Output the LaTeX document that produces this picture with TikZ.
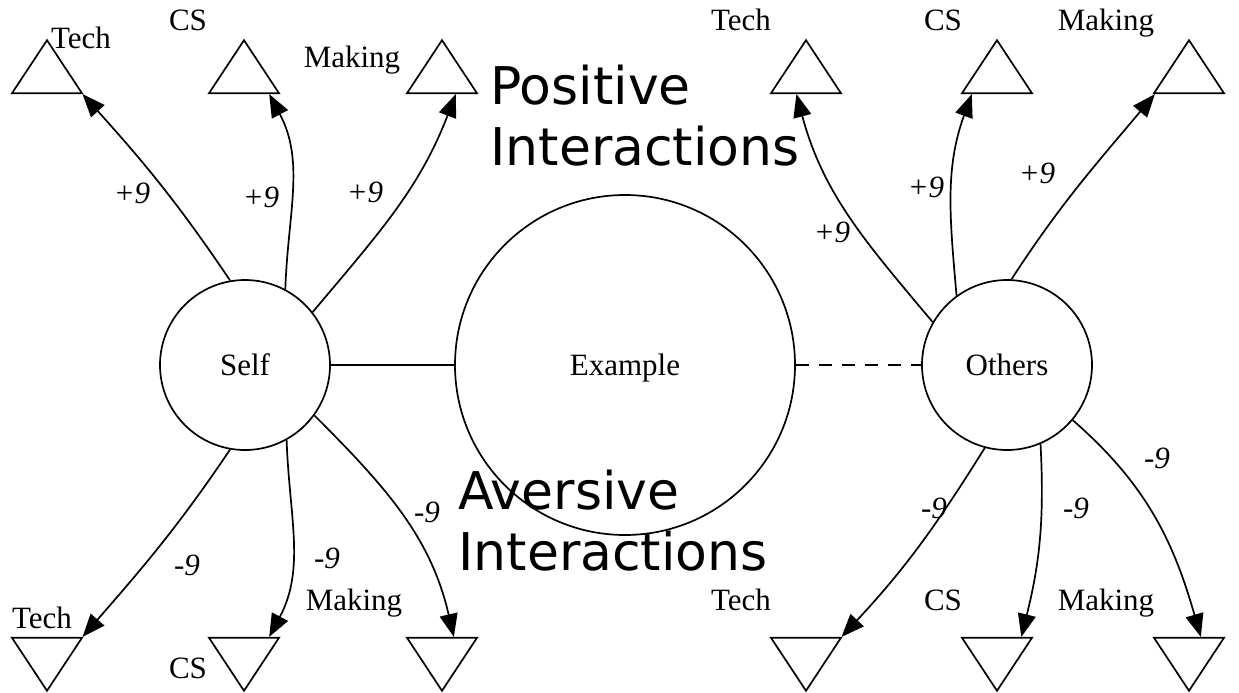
\documentclass[tikz,border=0pt]{standalone}
\usepackage{fontspec}
\setmainfont{Liberation Serif}
\newfontfamily\dejavu{DejaVu Sans}
\usetikzlibrary{arrows.meta}
\usetikzlibrary{shapes.geometric}

\begin{document}
\begin{tikzpicture}[x=0.5pt,y=0.5pt,
  every node/.style={font=\fontsize{15.5}{18}\selectfont},
  agent/.style={circle,draw,line width=0.85pt,minimum size=85pt,inner sep=0pt,text depth=0pt},
  upTri/.style={isosceles triangle,isosceles triangle stretches,shape border rotate=90,draw,line width=0.85pt,minimum width=35pt,minimum height=26.5pt,inner sep=0pt},
  downTri/.style={upTri,shape border rotate=-90},
  link/.style={line width=0.85pt,-{Triangle[length=11.5pt,width=9pt]}},
  weight/.style={font=\fontsize{15.5}{18}\selectfont\itshape,anchor=base},
  cat/.style={anchor=base},
  big/.style={font=\fontsize{26}{30.5}\selectfont\dejavu,align=left,anchor=base west,inner sep=0pt}]
\useasboundingbox (0,0) rectangle (1239,-692);

\node[agent] (self) at (245,-365) {Self};
\node[agent,minimum size=170pt] (ex) at (625,-365) {Example};
\node[agent] (oth) at (1007,-365) {Others};

\node[upTri] (sT) at (47,-74.4) {};
\node[upTri] (sC) at (244,-74.4) {};
\node[upTri] (sM) at (442,-74.4) {};
\node[upTri] (oT) at (806,-74.4) {};
\node[upTri] (oC) at (997,-74.4) {};
\node[upTri] (oM) at (1189,-74.4) {};
\node[downTri] (sTn) at (47,-656.6) {};
\node[downTri] (sCn) at (244,-656.6) {};
\node[downTri] (sMn) at (442,-656.6) {};
\node[downTri] (oTn) at (806,-656.6) {};
\node[downTri] (oCn) at (997,-656.6) {};
\node[downTri] (oMn) at (1189,-656.6) {};

\node[cat] (sTl) at (81,-48) {Tech};
\node[cat] (sCl) at (188,-30) {CS};
\node[cat] (sMl) at (352,-67) {Making};
\node[cat] (oTl) at (741,-30) {Tech};
\node[cat] (oCl) at (943,-30) {CS};
\node[cat] (oMl) at (1106,-30) {Making};
\node[cat] (sTnl) at (42,-628) {Tech};
\node[cat] (sCnl) at (188,-678) {CS};
\node[cat] (sMnl) at (354,-610) {Making};
\node[cat] (oTnl) at (741,-610) {Tech};
\node[cat] (oCnl) at (943,-610) {CS};
\node[cat] (oMnl) at (1106,-610) {Making};

\draw[line width=0.85pt] (self) -- (ex);
\draw[line width=0.85pt,dash pattern=on 6.5pt off 5pt] (ex) -- (oth);

\draw[link] (self.100) to[out=124,in=-48] (sT.-29);
\draw[link] (self.62) to[out=88,in=-62] (sC.-38);
\draw[link] (self.38) to[out=50,in=-111] (sM.-55);
\draw[link] (self.-100) to[out=-124,in=49] (sTn.29);
\draw[link] (self.-61) to[out=-88,in=62] (sCn.38);
\draw[link] (self.-36) to[out=-45,in=103] (sMn.59);
\draw[link] (oth.150) to[out=130,in=-75] (oT.-116);
\draw[link] (oth.126) to[out=95,in=-110] (oC.-142);
\draw[link] (oth.87) to[out=57,in=-130] (oM.-150);
\draw[link] (oth.-105) to[out=-122,in=47] (oTn.29);
\draw[link] (oth.-67) to[out=-87,in=76] (oCn.39);
\draw[link] (oth.-40) to[out=-41,in=106] (oMn.59);

\node[weight] (w1) at (132,-203) {+9};
\node[weight] (w2) at (261,-207) {+9};
\node[weight] (w3) at (365,-202) {+9};
\node[weight] (w4) at (832,-242) {+9};
\node[weight] (w5) at (926,-197) {+9};
\node[weight] (w6) at (1037,-183) {+9};
\node[weight] (w7) at (187,-575) {-9};
\node[weight] (w8) at (327,-568) {-9};
\node[weight] (w9) at (427,-522) {-9};
\node[weight] (w10) at (934,-518) {-9};
\node[weight] (w11) at (1076,-518) {-9};
\node[weight] (w12) at (1157,-468) {-9};

\node[big] (pos) at (490,-165) {Positive\\Interactions};
\node[big] (avr) at (458,-570) {Aversive\\Interactions};

\end{tikzpicture}
\end{document}
